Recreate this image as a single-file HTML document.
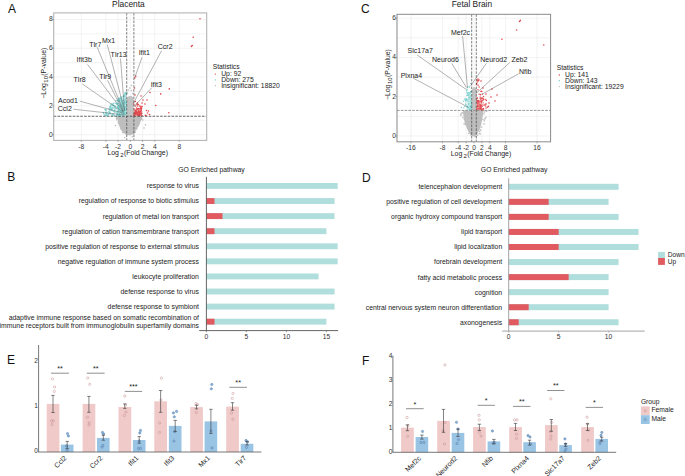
<!DOCTYPE html>
<html><head><meta charset="utf-8"><style>
html,body{margin:0;padding:0;background:#fff;width:685px;height:476px;overflow:hidden}
svg{display:block}
text{font-family:"Liberation Sans", sans-serif}
</style></head><body>
<svg width="685" height="476" viewBox="0 0 685 476">
<rect width="685" height="476" fill="#fff"/>
<text x="7.9" y="12.9" font-size="12.0" text-anchor="start" fill="#111">A</text>
<text x="7.3" y="180.6" font-size="12.0" text-anchor="start" fill="#111">B</text>
<text x="360.9" y="12.9" font-size="12.0" text-anchor="start" fill="#111">C</text>
<text x="361.9" y="182.3" font-size="12.0" text-anchor="start" fill="#111">D</text>
<text x="7.1" y="363.5" font-size="12.0" text-anchor="start" fill="#111">E</text>
<text x="362" y="365" font-size="12.0" text-anchor="start" fill="#111">F</text>
<g>
<line x1="53.7" y1="134.7" x2="206.7" y2="134.7" stroke="#ebebeb" stroke-width="0.6"/>
<line x1="53.7" y1="105.9" x2="206.7" y2="105.9" stroke="#ebebeb" stroke-width="0.6"/>
<line x1="53.7" y1="77.1" x2="206.7" y2="77.1" stroke="#ebebeb" stroke-width="0.6"/>
<line x1="53.7" y1="48.3" x2="206.7" y2="48.3" stroke="#ebebeb" stroke-width="0.6"/>
<line x1="53.7" y1="19.5" x2="206.7" y2="19.5" stroke="#ebebeb" stroke-width="0.6"/>
<line x1="53.7" y1="120.3" x2="206.7" y2="120.3" stroke="#ebebeb" stroke-width="0.6"/>
<line x1="53.7" y1="91.5" x2="206.7" y2="91.5" stroke="#ebebeb" stroke-width="0.6"/>
<line x1="53.7" y1="62.7" x2="206.7" y2="62.7" stroke="#ebebeb" stroke-width="0.6"/>
<line x1="53.7" y1="33.9" x2="206.7" y2="33.9" stroke="#ebebeb" stroke-width="0.6"/>
<line x1="81.34" y1="12.9" x2="81.34" y2="140.4" stroke="#ebebeb" stroke-width="0.6"/>
<line x1="105.82" y1="12.9" x2="105.82" y2="140.4" stroke="#ebebeb" stroke-width="0.6"/>
<line x1="118.06" y1="12.9" x2="118.06" y2="140.4" stroke="#ebebeb" stroke-width="0.6"/>
<line x1="130.3" y1="12.9" x2="130.3" y2="140.4" stroke="#ebebeb" stroke-width="0.6"/>
<line x1="142.54" y1="12.9" x2="142.54" y2="140.4" stroke="#ebebeb" stroke-width="0.6"/>
<line x1="154.78" y1="12.9" x2="154.78" y2="140.4" stroke="#ebebeb" stroke-width="0.6"/>
<line x1="179.26" y1="12.9" x2="179.26" y2="140.4" stroke="#ebebeb" stroke-width="0.6"/>
</g>
<path d="M117.3,116.3 L117.8,120 L119,125 L120.5,129.6 L123,132.5 L125.5,134.4 L127.3,135.3 L130.8,135.3 L132.5,134.2 L134.2,132.3 L136.6,129.6 L139.2,125 L141.3,120 L142.3,116.3Z" fill="#bebebe"/>
<path d="M126.5,116.3 L126.5,100 L127.3,97.5 L129,96 L131,95.8 L132.8,97 L133.5,99 L133.5,116.3Z" fill="#c2c2c2"/>
<path d="M116,116.3 L126.5,116.3 L126.5,100 L125,97 L123,98.5 L120.5,101.5 L118,105.5 L116.5,110Z" fill="#c3eae8"/>
<path d="M133.5,116.3 L140,116.3 L140.3,113 L138,110.5 L135.5,109 L133.5,108Z" fill="#ee9a9c"/>
<g fill="#bebebe">
<circle cx="139.92" cy="120.57" r="0.8"/>
<circle cx="121.18" cy="125.51" r="0.8"/>
<circle cx="135.03" cy="132.19" r="0.8"/>
<circle cx="123.6" cy="132.4" r="0.8"/>
<circle cx="141.18" cy="118.58" r="0.8"/>
<circle cx="119.15" cy="123.67" r="0.8"/>
<circle cx="118.46" cy="123.29" r="0.8"/>
<circle cx="135.8" cy="129.72" r="0.8"/>
<circle cx="123.78" cy="131.75" r="0.8"/>
<circle cx="132.29" cy="136.76" r="0.8"/>
<circle cx="119.74" cy="121.07" r="0.8"/>
<circle cx="116.72" cy="118.5" r="0.8"/>
<circle cx="116.7" cy="117.33" r="0.8"/>
<circle cx="139.27" cy="119.79" r="0.8"/>
<circle cx="121.58" cy="127.56" r="0.8"/>
<circle cx="137.97" cy="125.51" r="0.8"/>
<circle cx="139.01" cy="119.79" r="0.8"/>
<circle cx="137.91" cy="125.74" r="0.8"/>
<circle cx="120.88" cy="124.37" r="0.8"/>
<circle cx="121.57" cy="127.36" r="0.8"/>
<circle cx="122.19" cy="127.11" r="0.8"/>
<circle cx="116.91" cy="118.05" r="0.8"/>
<circle cx="120.52" cy="125.96" r="0.8"/>
<circle cx="139.23" cy="119.23" r="0.8"/>
<circle cx="132.71" cy="133.58" r="0.8"/>
<circle cx="138.79" cy="124.06" r="0.8"/>
<circle cx="136.4" cy="128.63" r="0.8"/>
<circle cx="119.25" cy="122.62" r="0.8"/>
<circle cx="121.29" cy="126.22" r="0.8"/>
<circle cx="134.35" cy="132.77" r="0.8"/>
<circle cx="139.01" cy="123.24" r="0.8"/>
<circle cx="121.25" cy="125.35" r="0.8"/>
<circle cx="116.89" cy="118.61" r="0.8"/>
<circle cx="118.25" cy="121.87" r="0.8"/>
<circle cx="118.61" cy="119.21" r="0.8"/>
<circle cx="141.41" cy="119.12" r="0.8"/>
<circle cx="135.88" cy="129.01" r="0.8"/>
<circle cx="139.8" cy="120.31" r="0.8"/>
<circle cx="134.03" cy="130.48" r="0.8"/>
<circle cx="136.42" cy="128.33" r="0.8"/>
<circle cx="136.98" cy="124.97" r="0.8"/>
<circle cx="116.76" cy="119.65" r="0.8"/>
<circle cx="119.65" cy="121.52" r="0.8"/>
<circle cx="141.34" cy="118.15" r="0.8"/>
<circle cx="123.26" cy="129.65" r="0.8"/>
<circle cx="122.55" cy="132.55" r="0.8"/>
<circle cx="134.88" cy="132.16" r="0.8"/>
<circle cx="137.14" cy="124.22" r="0.8"/>
<circle cx="138.31" cy="121.77" r="0.8"/>
<circle cx="119.9" cy="121.6" r="0.8"/>
<circle cx="121.83" cy="128.38" r="0.8"/>
<circle cx="133.21" cy="133.56" r="0.8"/>
<circle cx="141.41" cy="118.54" r="0.8"/>
<circle cx="136.72" cy="128.08" r="0.8"/>
<circle cx="124.73" cy="137.6" r="0.8"/>
<circle cx="131.5" cy="85.5" r="0.8"/>
<circle cx="130" cy="88" r="0.8"/>
<circle cx="128.5" cy="90" r="0.8"/>
<circle cx="131.5" cy="90.5" r="0.8"/>
<circle cx="127.5" cy="93" r="0.8"/>
<circle cx="132.5" cy="93.5" r="0.8"/>
<circle cx="142.8" cy="120" r="0.8"/>
<circle cx="145.5" cy="124.9" r="0.8"/>
<circle cx="115.5" cy="125.5" r="0.8"/>
<circle cx="144" cy="128" r="0.8"/>
</g>
<g fill="#7fd0cf">
<circle cx="113.66" cy="105.18" r="0.75"/>
<circle cx="110.75" cy="108.17" r="0.75"/>
<circle cx="120.67" cy="97.01" r="0.75"/>
<circle cx="123.76" cy="113.38" r="0.75"/>
<circle cx="110.27" cy="107.55" r="0.75"/>
<circle cx="113.25" cy="103.28" r="0.75"/>
<circle cx="119.67" cy="99.21" r="0.75"/>
<circle cx="106.08" cy="115.13" r="0.75"/>
<circle cx="124.49" cy="103.57" r="0.75"/>
<circle cx="120.25" cy="105.72" r="0.75"/>
<circle cx="122.02" cy="97.15" r="0.75"/>
<circle cx="121.33" cy="112.54" r="0.75"/>
<circle cx="126.21" cy="92.51" r="0.75"/>
<circle cx="113.6" cy="114.17" r="0.75"/>
<circle cx="125.13" cy="95.93" r="0.75"/>
<circle cx="125" cy="96.99" r="0.75"/>
<circle cx="111.77" cy="108.21" r="0.75"/>
<circle cx="120.64" cy="102.06" r="0.75"/>
<circle cx="118.72" cy="109.67" r="0.75"/>
<circle cx="119.31" cy="108.21" r="0.75"/>
<circle cx="126.2" cy="93.17" r="0.75"/>
<circle cx="117.16" cy="115.7" r="0.75"/>
<circle cx="115.2" cy="103.24" r="0.75"/>
<circle cx="103.72" cy="113.66" r="0.75"/>
<circle cx="108.73" cy="114.74" r="0.75"/>
<circle cx="124.01" cy="104.35" r="0.75"/>
<circle cx="106.64" cy="112.89" r="0.75"/>
<circle cx="105.03" cy="109.47" r="0.75"/>
<circle cx="118.83" cy="101.51" r="0.75"/>
<circle cx="125.28" cy="110.15" r="0.75"/>
<circle cx="117.99" cy="100.6" r="0.75"/>
<circle cx="103.35" cy="112.5" r="0.75"/>
<circle cx="119.22" cy="109.99" r="0.75"/>
<circle cx="121.41" cy="98.48" r="0.75"/>
<circle cx="122.92" cy="115.29" r="0.75"/>
<circle cx="108.71" cy="111.71" r="0.75"/>
<circle cx="119.67" cy="100.08" r="0.75"/>
<circle cx="123.33" cy="112.69" r="0.75"/>
<circle cx="124.98" cy="100.13" r="0.75"/>
<circle cx="126.18" cy="102.53" r="0.75"/>
<circle cx="125.26" cy="114.36" r="0.75"/>
<circle cx="112.54" cy="110.69" r="0.75"/>
<circle cx="117.6" cy="107.35" r="0.75"/>
<circle cx="114.02" cy="115.2" r="0.75"/>
<circle cx="113.03" cy="105.13" r="0.75"/>
<circle cx="107.05" cy="113.01" r="0.75"/>
<circle cx="125.47" cy="99.78" r="0.75"/>
<circle cx="113.89" cy="111.51" r="0.75"/>
<circle cx="109.78" cy="109.7" r="0.75"/>
<circle cx="109.72" cy="107.04" r="0.75"/>
<circle cx="121.89" cy="101.34" r="0.75"/>
<circle cx="118.66" cy="114.79" r="0.75"/>
<circle cx="125.95" cy="112.46" r="0.75"/>
<circle cx="123.34" cy="112.09" r="0.75"/>
<circle cx="117.55" cy="100.68" r="0.75"/>
<circle cx="106" cy="109.64" r="0.75"/>
<circle cx="123.93" cy="96.61" r="0.75"/>
<circle cx="114.82" cy="112.07" r="0.75"/>
<circle cx="106.2" cy="115.7" r="0.75"/>
<circle cx="105.54" cy="109.95" r="0.75"/>
<circle cx="121.82" cy="101.99" r="0.75"/>
<circle cx="123.21" cy="96.48" r="0.75"/>
<circle cx="116.19" cy="108.53" r="0.75"/>
<circle cx="126.21" cy="107.04" r="0.75"/>
<circle cx="117.97" cy="107" r="0.75"/>
<circle cx="115.08" cy="111.94" r="0.75"/>
<circle cx="109.66" cy="113.42" r="0.75"/>
<circle cx="110.4" cy="106.25" r="0.75"/>
<circle cx="112.58" cy="113.93" r="0.75"/>
<circle cx="126.27" cy="103.36" r="0.75"/>
<circle cx="122.24" cy="113.97" r="0.75"/>
<circle cx="123.35" cy="104.88" r="0.75"/>
<circle cx="109.88" cy="108.9" r="0.75"/>
<circle cx="109.77" cy="112.63" r="0.75"/>
<circle cx="120.55" cy="98.37" r="0.75"/>
<circle cx="120.4" cy="111.42" r="0.75"/>
<circle cx="126.02" cy="98.71" r="0.75"/>
<circle cx="123.44" cy="102.63" r="0.75"/>
<circle cx="123.79" cy="109.19" r="0.75"/>
<circle cx="116.84" cy="104.09" r="0.75"/>
<circle cx="122.14" cy="101.6" r="0.75"/>
<circle cx="114.98" cy="108.33" r="0.75"/>
<circle cx="123.6" cy="103.14" r="0.75"/>
<circle cx="116.74" cy="114.44" r="0.75"/>
<circle cx="117.36" cy="112.36" r="0.75"/>
<circle cx="119.52" cy="99.07" r="0.75"/>
<circle cx="122.06" cy="99.53" r="0.75"/>
<circle cx="125.55" cy="93.04" r="0.75"/>
<circle cx="105.98" cy="110.57" r="0.75"/>
<circle cx="109.96" cy="111.12" r="0.75"/>
<circle cx="117.26" cy="100.29" r="0.75"/>
<circle cx="104.54" cy="114.88" r="0.75"/>
<circle cx="105.99" cy="112.34" r="0.75"/>
<circle cx="112.54" cy="104.49" r="0.75"/>
<circle cx="124.42" cy="109.63" r="0.75"/>
<circle cx="114.51" cy="115.66" r="0.75"/>
<circle cx="124.4" cy="96.76" r="0.75"/>
<circle cx="110.49" cy="113.67" r="0.75"/>
<circle cx="109.86" cy="112.81" r="0.75"/>
<circle cx="123.91" cy="113.96" r="0.75"/>
<circle cx="112.07" cy="114.8" r="0.75"/>
<circle cx="119.44" cy="113.35" r="0.75"/>
<circle cx="125.64" cy="106.91" r="0.75"/>
<circle cx="123.19" cy="110.93" r="0.75"/>
<circle cx="111.99" cy="115.86" r="0.75"/>
<circle cx="116.1" cy="100.7" r="0.75"/>
<circle cx="125.18" cy="93.09" r="0.75"/>
<circle cx="126.39" cy="113.18" r="0.75"/>
<circle cx="105.96" cy="113.3" r="0.75"/>
<circle cx="123.83" cy="103.14" r="0.75"/>
<circle cx="118.72" cy="107.46" r="0.75"/>
<circle cx="114.8" cy="107.56" r="0.75"/>
<circle cx="118.38" cy="103.73" r="0.75"/>
<circle cx="119.82" cy="114" r="0.75"/>
<circle cx="117.38" cy="115.67" r="0.75"/>
<circle cx="119.73" cy="98.94" r="0.75"/>
<circle cx="122.58" cy="111.13" r="0.75"/>
<circle cx="124.11" cy="95.49" r="0.75"/>
<circle cx="118.22" cy="114.71" r="0.75"/>
<circle cx="106.24" cy="114.89" r="0.75"/>
<circle cx="118.58" cy="109.47" r="0.75"/>
<circle cx="117.86" cy="111.85" r="0.75"/>
<circle cx="110.63" cy="106.66" r="0.75"/>
<circle cx="121.93" cy="105.3" r="0.75"/>
<circle cx="110.52" cy="105.06" r="0.75"/>
<circle cx="116.48" cy="103.75" r="0.75"/>
<circle cx="119.99" cy="98.85" r="0.75"/>
<circle cx="117.57" cy="113.5" r="0.75"/>
<circle cx="115.41" cy="106.22" r="0.75"/>
<circle cx="117.93" cy="105.7" r="0.75"/>
<circle cx="111.99" cy="105.67" r="0.75"/>
<circle cx="123.91" cy="95.35" r="0.75"/>
<circle cx="105.97" cy="112.53" r="0.75"/>
<circle cx="119.69" cy="115.56" r="0.75"/>
<circle cx="111.49" cy="109.3" r="0.75"/>
<circle cx="122.23" cy="107.89" r="0.75"/>
<circle cx="122.18" cy="115.76" r="0.75"/>
<circle cx="117.31" cy="111.89" r="0.75"/>
<circle cx="126.03" cy="107.7" r="0.75"/>
<circle cx="111.67" cy="103.95" r="0.75"/>
<circle cx="124.68" cy="93.66" r="0.75"/>
<circle cx="119.3" cy="98.19" r="0.75"/>
<circle cx="118.44" cy="105.54" r="0.75"/>
<circle cx="112.43" cy="107.84" r="0.75"/>
<circle cx="121.73" cy="110.15" r="0.75"/>
<circle cx="125.12" cy="110.87" r="0.75"/>
<circle cx="122.26" cy="107.3" r="0.75"/>
<circle cx="120.48" cy="106.32" r="0.75"/>
<circle cx="118.74" cy="100.55" r="0.75"/>
<circle cx="122.93" cy="105.81" r="0.75"/>
<circle cx="118.92" cy="115.49" r="0.75"/>
<circle cx="120.73" cy="111.69" r="0.75"/>
<circle cx="114.91" cy="109.52" r="0.75"/>
<circle cx="126.13" cy="94.73" r="0.75"/>
<circle cx="108.36" cy="114.07" r="0.75"/>
<circle cx="106.24" cy="114.91" r="0.75"/>
<circle cx="122.97" cy="104.71" r="0.75"/>
<circle cx="124.61" cy="101.16" r="0.75"/>
<circle cx="126.18" cy="107.07" r="0.75"/>
<circle cx="125.08" cy="94.81" r="0.75"/>
<circle cx="118.26" cy="98.76" r="0.75"/>
<circle cx="109.01" cy="108.98" r="0.75"/>
<circle cx="113.7" cy="105.63" r="0.75"/>
<circle cx="126.17" cy="109.53" r="0.75"/>
<circle cx="125.46" cy="107.84" r="0.75"/>
<circle cx="122.96" cy="106.36" r="0.75"/>
<circle cx="112.86" cy="108.68" r="0.75"/>
<circle cx="114.21" cy="105.64" r="0.75"/>
<circle cx="118.11" cy="107.2" r="0.75"/>
<circle cx="120.68" cy="115.79" r="0.75"/>
<circle cx="109.96" cy="109.7" r="0.75"/>
<circle cx="124.63" cy="103.04" r="0.75"/>
<circle cx="117.82" cy="111.65" r="0.75"/>
<circle cx="122.92" cy="103.99" r="0.75"/>
<circle cx="111.56" cy="109.46" r="0.75"/>
<circle cx="112.39" cy="104.4" r="0.75"/>
<circle cx="119.09" cy="98.45" r="0.75"/>
<circle cx="107.4" cy="114.91" r="0.75"/>
<circle cx="113.92" cy="106.95" r="0.75"/>
<circle cx="111.48" cy="110.14" r="0.75"/>
<circle cx="121.9" cy="101.09" r="0.75"/>
<circle cx="123.09" cy="110.37" r="0.75"/>
<circle cx="118.37" cy="111.46" r="0.75"/>
<circle cx="121.68" cy="111.6" r="0.75"/>
<circle cx="114.45" cy="110.95" r="0.75"/>
<circle cx="120.95" cy="110.61" r="0.75"/>
<circle cx="125.38" cy="114.13" r="0.75"/>
<circle cx="125.63" cy="107.35" r="0.75"/>
<circle cx="110.56" cy="107.17" r="0.75"/>
<circle cx="123.98" cy="111.36" r="0.75"/>
<circle cx="122.91" cy="108.94" r="0.75"/>
<circle cx="119.09" cy="114" r="0.75"/>
<circle cx="124.15" cy="108.21" r="0.75"/>
<circle cx="118.51" cy="103.45" r="0.75"/>
<circle cx="120.57" cy="105.3" r="0.75"/>
<circle cx="117.57" cy="106.5" r="0.75"/>
<circle cx="121.22" cy="104.59" r="0.75"/>
<circle cx="120.61" cy="105.32" r="0.75"/>
<circle cx="120.54" cy="109.9" r="0.75"/>
<circle cx="121.67" cy="103.16" r="0.75"/>
<circle cx="124.48" cy="108.21" r="0.75"/>
<circle cx="121.31" cy="111.41" r="0.75"/>
<circle cx="124.07" cy="113.58" r="0.75"/>
<circle cx="124.63" cy="110.7" r="0.75"/>
<circle cx="123.78" cy="102.51" r="0.75"/>
<circle cx="123.57" cy="104.07" r="0.75"/>
<circle cx="119.42" cy="101.92" r="0.75"/>
<circle cx="120.73" cy="100.32" r="0.75"/>
<circle cx="123.18" cy="111.97" r="0.75"/>
<circle cx="124.29" cy="102.06" r="0.75"/>
<circle cx="123.03" cy="113.41" r="0.75"/>
<circle cx="117.34" cy="103.09" r="0.75"/>
<circle cx="119.52" cy="107.39" r="0.75"/>
<circle cx="118.62" cy="108.62" r="0.75"/>
<circle cx="120.23" cy="110.48" r="0.75"/>
<circle cx="121.99" cy="110.98" r="0.75"/>
<circle cx="119.32" cy="111.31" r="0.75"/>
<circle cx="123.91" cy="111.55" r="0.75"/>
<circle cx="117.64" cy="115.14" r="0.75"/>
<circle cx="122.42" cy="104.36" r="0.75"/>
<circle cx="121.08" cy="108.28" r="0.75"/>
<circle cx="121.87" cy="103.97" r="0.75"/>
<circle cx="119.49" cy="105.82" r="0.75"/>
<circle cx="124.34" cy="107" r="0.75"/>
<circle cx="117.36" cy="107.24" r="0.75"/>
<circle cx="118.89" cy="100.2" r="0.75"/>
<circle cx="126.18" cy="104.7" r="0.75"/>
<circle cx="122.05" cy="105.73" r="0.75"/>
<circle cx="117.5" cy="114.41" r="0.75"/>
<circle cx="125.8" cy="102.98" r="0.75"/>
<circle cx="120.93" cy="105.98" r="0.75"/>
<circle cx="118.57" cy="110.59" r="0.75"/>
<circle cx="124.35" cy="112.16" r="0.75"/>
<circle cx="123.35" cy="100.28" r="0.75"/>
<circle cx="119.16" cy="108.23" r="0.75"/>
<circle cx="123.61" cy="106.18" r="0.75"/>
<circle cx="121.22" cy="113.45" r="0.75"/>
<circle cx="117.22" cy="104.3" r="0.75"/>
<circle cx="119.73" cy="115.88" r="0.75"/>
<circle cx="119.14" cy="100.75" r="0.75"/>
</g>
<g fill="#e0474c">
<circle cx="140.85" cy="107.59" r="0.75"/>
<circle cx="136.27" cy="112.15" r="0.75"/>
<circle cx="137.02" cy="108.9" r="0.75"/>
<circle cx="136.42" cy="113.16" r="0.75"/>
<circle cx="137.1" cy="109.55" r="0.75"/>
<circle cx="135.22" cy="106.07" r="0.75"/>
<circle cx="137.17" cy="104.63" r="0.75"/>
<circle cx="145.33" cy="115.33" r="0.75"/>
<circle cx="137.76" cy="114.84" r="0.75"/>
<circle cx="138.45" cy="114.49" r="0.75"/>
<circle cx="140.72" cy="106.31" r="0.75"/>
<circle cx="135.18" cy="113.38" r="0.75"/>
<circle cx="135.39" cy="101.46" r="0.75"/>
<circle cx="133.84" cy="103.98" r="0.75"/>
<circle cx="134.92" cy="113.6" r="0.75"/>
<circle cx="139.28" cy="112.33" r="0.75"/>
<circle cx="139.72" cy="113.61" r="0.75"/>
<circle cx="135.1" cy="112.83" r="0.75"/>
<circle cx="139.56" cy="115.75" r="0.75"/>
<circle cx="137.4" cy="102.99" r="0.75"/>
<circle cx="138.73" cy="111.71" r="0.75"/>
<circle cx="135.27" cy="114.28" r="0.75"/>
<circle cx="139.86" cy="108.64" r="0.75"/>
<circle cx="139.68" cy="115.16" r="0.75"/>
<circle cx="139.54" cy="105.89" r="0.75"/>
<circle cx="145.97" cy="115.45" r="0.75"/>
<circle cx="138.44" cy="104.52" r="0.75"/>
<circle cx="141.24" cy="109.27" r="0.75"/>
<circle cx="138.68" cy="111.98" r="0.75"/>
<circle cx="141.75" cy="113.52" r="0.75"/>
<circle cx="136.83" cy="114" r="0.75"/>
<circle cx="138.97" cy="110.65" r="0.75"/>
<circle cx="138.07" cy="112.85" r="0.75"/>
<circle cx="138.11" cy="108.89" r="0.75"/>
<circle cx="141.93" cy="115.73" r="0.75"/>
<circle cx="133.91" cy="115.55" r="0.75"/>
<circle cx="138.06" cy="109.01" r="0.75"/>
<circle cx="140.49" cy="111.46" r="0.75"/>
<circle cx="139.59" cy="114.62" r="0.75"/>
<circle cx="138.12" cy="108.4" r="0.75"/>
<circle cx="140.51" cy="113.55" r="0.75"/>
<circle cx="141.25" cy="110.16" r="0.75"/>
<circle cx="140.2" cy="114.98" r="0.75"/>
<circle cx="136.58" cy="111.28" r="0.75"/>
<circle cx="136.41" cy="108.05" r="0.75"/>
<circle cx="135.55" cy="110.65" r="0.75"/>
<circle cx="134.51" cy="114.12" r="0.75"/>
<circle cx="137.19" cy="112.55" r="0.75"/>
<circle cx="135.99" cy="110.88" r="0.75"/>
<circle cx="139.93" cy="111.76" r="0.75"/>
<circle cx="138.61" cy="111.38" r="0.75"/>
<circle cx="138.28" cy="115.18" r="0.75"/>
<circle cx="135.85" cy="112.15" r="0.75"/>
<circle cx="139.37" cy="108.69" r="0.75"/>
<circle cx="141.68" cy="111.99" r="0.75"/>
<circle cx="135.66" cy="114.08" r="0.75"/>
<circle cx="140.45" cy="113.04" r="0.75"/>
<circle cx="141.3" cy="108.71" r="0.75"/>
<circle cx="138.03" cy="113.94" r="0.75"/>
<circle cx="141.3" cy="113.13" r="0.75"/>
<circle cx="138.66" cy="111.11" r="0.75"/>
<circle cx="138.4" cy="112.44" r="0.75"/>
<circle cx="141.2" cy="114.62" r="0.75"/>
<circle cx="139.79" cy="115.39" r="0.75"/>
<circle cx="134.16" cy="114.16" r="0.75"/>
<circle cx="137.49" cy="114.01" r="0.75"/>
<circle cx="136.09" cy="111.74" r="0.75"/>
<circle cx="140.53" cy="108.28" r="0.75"/>
<circle cx="136.05" cy="111.91" r="0.75"/>
<circle cx="140.75" cy="110.16" r="0.75"/>
<circle cx="134.5" cy="88" r="0.8"/>
<circle cx="135" cy="95" r="0.8"/>
<circle cx="141" cy="96" r="0.8"/>
<circle cx="143" cy="100" r="0.8"/>
<circle cx="142" cy="103" r="0.8"/>
<circle cx="137" cy="104" r="0.8"/>
<circle cx="137.5" cy="106" r="0.8"/>
<circle cx="142" cy="106.5" r="0.8"/>
<circle cx="141.5" cy="108" r="0.8"/>
<circle cx="146.5" cy="110.5" r="0.8"/>
<circle cx="147.5" cy="113" r="0.8"/>
<circle cx="149.5" cy="114.5" r="0.8"/>
<circle cx="200" cy="18.7" r="0.8"/>
<circle cx="193.2" cy="37.3" r="0.8"/>
<circle cx="192.2" cy="45.5" r="0.8"/>
<circle cx="191.5" cy="46.4" r="0.8"/>
<circle cx="135.8" cy="76.2" r="0.8"/>
<circle cx="134.8" cy="77.9" r="0.8"/>
<circle cx="169.3" cy="88.9" r="0.8"/>
<circle cx="160.7" cy="93.9" r="0.8"/>
<circle cx="150" cy="92.5" r="0.8"/>
<circle cx="155.7" cy="105.5" r="0.8"/>
<circle cx="168.8" cy="112.7" r="0.8"/>
<circle cx="147" cy="100" r="0.8"/>
<circle cx="145" cy="104" r="0.8"/>
<circle cx="148.5" cy="111" r="0.8"/>
</g>
<line x1="126.72" y1="12.9" x2="126.72" y2="140.4" stroke="#3a3a3a" stroke-width="0.65" stroke-dasharray="2.6,1.2"/>
<line x1="133.88" y1="12.9" x2="133.88" y2="140.4" stroke="#3a3a3a" stroke-width="0.65" stroke-dasharray="2.6,1.2"/>
<line x1="53.7" y1="116.25" x2="206.7" y2="116.25" stroke="#333" stroke-width="0.75" stroke-dasharray="2.6,1.2"/>
<line x1="107.3" y1="44.6" x2="124.5" y2="110.5" stroke="#555" stroke-width="0.45"/>
<text x="108.5" y="42.6" font-size="7.0" text-anchor="middle" fill="#222">Mx1</text>
<line x1="97.2" y1="47.2" x2="123.5" y2="111" stroke="#555" stroke-width="0.45"/>
<text x="95.3" y="47" font-size="7.0" text-anchor="middle" fill="#222">Tlr7</text>
<line x1="120.5" y1="58.5" x2="124.5" y2="110.5" stroke="#555" stroke-width="0.45"/>
<text x="118.6" y="57.1" font-size="7.0" text-anchor="middle" fill="#222">Tlr13</text>
<line x1="87.5" y1="64.4" x2="123.5" y2="112" stroke="#555" stroke-width="0.45"/>
<text x="84.2" y="62.1" font-size="7.0" text-anchor="middle" fill="#222">Ifit3b</text>
<line x1="107.5" y1="80.2" x2="123.2" y2="111.5" stroke="#555" stroke-width="0.45"/>
<text x="105.2" y="79.2" font-size="7.0" text-anchor="middle" fill="#222">Tlr9</text>
<line x1="82.3" y1="83.9" x2="123.5" y2="112.5" stroke="#555" stroke-width="0.45"/>
<text x="79.6" y="82.4" font-size="7.0" text-anchor="middle" fill="#222">Tlr8</text>
<line x1="79.6" y1="101.1" x2="124.5" y2="113.5" stroke="#555" stroke-width="0.45"/>
<text x="68" y="102.8" font-size="7.0" text-anchor="middle" fill="#222">Acod1</text>
<line x1="73.4" y1="109.2" x2="125.5" y2="115" stroke="#555" stroke-width="0.45"/>
<text x="64.8" y="110.9" font-size="7.0" text-anchor="middle" fill="#222">Ccl2</text>
<line x1="142" y1="57.3" x2="135" y2="77" stroke="#555" stroke-width="0.45"/>
<text x="144.3" y="54.7" font-size="7.0" text-anchor="middle" fill="#222">Ifit1</text>
<line x1="161.6" y1="50.7" x2="133.3" y2="103.5" stroke="#555" stroke-width="0.45"/>
<text x="165.2" y="49" font-size="7.0" text-anchor="middle" fill="#222">Ccr2</text>
<line x1="151.8" y1="87.7" x2="134.5" y2="106" stroke="#555" stroke-width="0.45"/>
<text x="156.3" y="86.5" font-size="7.0" text-anchor="middle" fill="#222">Ifit3</text>
<rect x="53.7" y="12.9" width="153" height="127.5" fill="none" stroke="#b4b4b4" stroke-width="1.1"/>
<line x1="52.2" y1="134.7" x2="53.7" y2="134.7" stroke="#666" stroke-width="0.5"/>
<text x="52.7" y="136.6" font-size="6.7" text-anchor="end" fill="#333">0</text>
<line x1="52.2" y1="105.9" x2="53.7" y2="105.9" stroke="#666" stroke-width="0.5"/>
<text x="52.7" y="107.8" font-size="6.7" text-anchor="end" fill="#333">2</text>
<line x1="52.2" y1="77.1" x2="53.7" y2="77.1" stroke="#666" stroke-width="0.5"/>
<text x="52.7" y="79" font-size="6.7" text-anchor="end" fill="#333">4</text>
<line x1="52.2" y1="48.3" x2="53.7" y2="48.3" stroke="#666" stroke-width="0.5"/>
<text x="52.7" y="50.2" font-size="6.7" text-anchor="end" fill="#333">6</text>
<line x1="52.2" y1="19.5" x2="53.7" y2="19.5" stroke="#666" stroke-width="0.5"/>
<text x="52.7" y="21.4" font-size="6.7" text-anchor="end" fill="#333">8</text>
<line x1="81.34" y1="140.4" x2="81.34" y2="141.9" stroke="#666" stroke-width="0.5"/>
<text x="81.34" y="148.8" font-size="6.7" text-anchor="middle" fill="#333">-8</text>
<line x1="105.82" y1="140.4" x2="105.82" y2="141.9" stroke="#666" stroke-width="0.5"/>
<text x="105.82" y="148.8" font-size="6.7" text-anchor="middle" fill="#333">-4</text>
<line x1="118.06" y1="140.4" x2="118.06" y2="141.9" stroke="#666" stroke-width="0.5"/>
<text x="118.06" y="148.8" font-size="6.7" text-anchor="middle" fill="#333">-2</text>
<line x1="130.3" y1="140.4" x2="130.3" y2="141.9" stroke="#666" stroke-width="0.5"/>
<text x="130.3" y="148.8" font-size="6.7" text-anchor="middle" fill="#333">0</text>
<line x1="142.54" y1="140.4" x2="142.54" y2="141.9" stroke="#666" stroke-width="0.5"/>
<text x="142.54" y="148.8" font-size="6.7" text-anchor="middle" fill="#333">2</text>
<line x1="154.78" y1="140.4" x2="154.78" y2="141.9" stroke="#666" stroke-width="0.5"/>
<text x="154.78" y="148.8" font-size="6.7" text-anchor="middle" fill="#333">4</text>
<line x1="179.26" y1="140.4" x2="179.26" y2="141.9" stroke="#666" stroke-width="0.5"/>
<text x="179.26" y="148.8" font-size="6.7" text-anchor="middle" fill="#333">8</text>
<text x="128.4" y="6.6" font-size="8.4" text-anchor="middle" fill="#222">Placenta</text>
<text x="137.7" y="154.6" font-size="6.9" text-anchor="middle" fill="#222">Log<tspan font-size="6.0" dx="1.2" dy="2.3">2</tspan><tspan dx="0.4" dy="-2.3">(Fold Change)</tspan></text>
<text x="45.7" y="73.2" font-size="6.9" text-anchor="middle" fill="#222" transform="rotate(-90 45.7 73.2)">−Log<tspan font-size="6.0" dx="0.5" dy="2.3">10</tspan><tspan dx="0.3" dy="-2.3">(P-value)</tspan></text>
<text x="212.8" y="69" font-size="6.7" text-anchor="start" fill="#222">Statistics</text>
<circle cx="215.4" cy="74.1" r="0.7" fill="#e0474c"/>
<text x="221.2" y="76.3" font-size="6.8" text-anchor="start" fill="#222">Up: 92</text>
<circle cx="215.4" cy="79.9" r="0.7" fill="#7fd0cf"/>
<text x="221.2" y="82.1" font-size="6.8" text-anchor="start" fill="#222">Down: 275</text>
<circle cx="215.4" cy="85.7" r="0.7" fill="#bebebe"/>
<text x="221.2" y="87.9" font-size="6.8" text-anchor="start" fill="#222">Insignificant: 18820</text>
<g>
<line x1="397" y1="136" x2="550.6" y2="136" stroke="#ebebeb" stroke-width="0.6"/>
<line x1="397" y1="96.74" x2="550.6" y2="96.74" stroke="#ebebeb" stroke-width="0.6"/>
<line x1="397" y1="57.48" x2="550.6" y2="57.48" stroke="#ebebeb" stroke-width="0.6"/>
<line x1="397" y1="18.22" x2="550.6" y2="18.22" stroke="#ebebeb" stroke-width="0.6"/>
<line x1="397" y1="116.37" x2="550.6" y2="116.37" stroke="#ebebeb" stroke-width="0.6"/>
<line x1="397" y1="77.11" x2="550.6" y2="77.11" stroke="#ebebeb" stroke-width="0.6"/>
<line x1="397" y1="37.85" x2="550.6" y2="37.85" stroke="#ebebeb" stroke-width="0.6"/>
<line x1="410.96" y1="14.3" x2="410.96" y2="141.8" stroke="#ebebeb" stroke-width="0.6"/>
<line x1="442.48" y1="14.3" x2="442.48" y2="141.8" stroke="#ebebeb" stroke-width="0.6"/>
<line x1="458.24" y1="14.3" x2="458.24" y2="141.8" stroke="#ebebeb" stroke-width="0.6"/>
<line x1="466.12" y1="14.3" x2="466.12" y2="141.8" stroke="#ebebeb" stroke-width="0.6"/>
<line x1="474" y1="14.3" x2="474" y2="141.8" stroke="#ebebeb" stroke-width="0.6"/>
<line x1="481.88" y1="14.3" x2="481.88" y2="141.8" stroke="#ebebeb" stroke-width="0.6"/>
<line x1="489.76" y1="14.3" x2="489.76" y2="141.8" stroke="#ebebeb" stroke-width="0.6"/>
<line x1="505.52" y1="14.3" x2="505.52" y2="141.8" stroke="#ebebeb" stroke-width="0.6"/>
<line x1="537.04" y1="14.3" x2="537.04" y2="141.8" stroke="#ebebeb" stroke-width="0.6"/>
</g>
<path d="M463,110.4 L463.3,115 L464.2,120 L465.6,125 L467.6,130 L470.3,135 L473.5,136.6 L476.5,135.6 L478.8,131 L480.6,127 L482,120 L483,115 L483.6,110.4Z" fill="#bebebe"/>
<path d="M471.9,110.4 L471.9,90 L473,87.5 L474.5,87 L476.5,89 L476.5,110.4Z" fill="#c4c4c4"/>
<path d="M467,110.4 L471.9,110.4 L471.9,94 L470.5,92 L469,96 L467.5,102Z" fill="#c3eae8"/>
<path d="M476.5,110.4 L482,110.4 L482,107 L480,103 L478,100 L476.5,99Z" fill="#ee9a9c"/>
<g fill="#bebebe">
<circle cx="485.98" cy="117.21" r="0.8"/>
<circle cx="468.31" cy="125.31" r="0.8"/>
<circle cx="480.23" cy="133.86" r="0.8"/>
<circle cx="471.13" cy="131.13" r="0.8"/>
<circle cx="468.39" cy="126.14" r="0.8"/>
<circle cx="474.9" cy="114.62" r="0.8"/>
<circle cx="462.94" cy="117.61" r="0.8"/>
<circle cx="470.49" cy="122.47" r="0.8"/>
<circle cx="464" cy="123.79" r="0.8"/>
<circle cx="465.85" cy="115.04" r="0.8"/>
<circle cx="470.94" cy="112.48" r="0.8"/>
<circle cx="473.99" cy="129.04" r="0.8"/>
<circle cx="485.16" cy="118.25" r="0.8"/>
<circle cx="475.91" cy="136.47" r="0.8"/>
<circle cx="478.36" cy="124.08" r="0.8"/>
<circle cx="484.77" cy="118.98" r="0.8"/>
<circle cx="486.26" cy="111.29" r="0.8"/>
<circle cx="466.1" cy="115.44" r="0.8"/>
<circle cx="477.53" cy="129.22" r="0.8"/>
<circle cx="484.31" cy="120.84" r="0.8"/>
<circle cx="462.15" cy="112.5" r="0.8"/>
<circle cx="465.87" cy="123.71" r="0.8"/>
<circle cx="477.18" cy="124.46" r="0.8"/>
<circle cx="481.58" cy="127.21" r="0.8"/>
<circle cx="469.43" cy="113.23" r="0.8"/>
<circle cx="479.57" cy="131.69" r="0.8"/>
<circle cx="471" cy="135.07" r="0.8"/>
<circle cx="478.21" cy="125.14" r="0.8"/>
<circle cx="480.94" cy="114.93" r="0.8"/>
<circle cx="478.55" cy="120.14" r="0.8"/>
<circle cx="460.57" cy="114.29" r="0.8"/>
<circle cx="474.31" cy="117.68" r="0.8"/>
<circle cx="484.02" cy="114.01" r="0.8"/>
<circle cx="468.64" cy="124.16" r="0.8"/>
<circle cx="465.14" cy="116.27" r="0.8"/>
<circle cx="471.68" cy="131.49" r="0.8"/>
<circle cx="470.24" cy="116.93" r="0.8"/>
<circle cx="464.22" cy="119.27" r="0.8"/>
<circle cx="486.96" cy="110.89" r="0.8"/>
<circle cx="468.66" cy="133.37" r="0.8"/>
<circle cx="465.15" cy="121.99" r="0.8"/>
<circle cx="460.96" cy="115.5" r="0.8"/>
<circle cx="484.06" cy="123.91" r="0.8"/>
<circle cx="480.5" cy="130.03" r="0.8"/>
<circle cx="478.62" cy="115.98" r="0.8"/>
<circle cx="481.75" cy="113.84" r="0.8"/>
<circle cx="467.17" cy="122.54" r="0.8"/>
<circle cx="461.89" cy="113.58" r="0.8"/>
<circle cx="480.18" cy="130.24" r="0.8"/>
<circle cx="470.6" cy="121.01" r="0.8"/>
<circle cx="465.06" cy="124.47" r="0.8"/>
<circle cx="477.73" cy="135.26" r="0.8"/>
<circle cx="480.14" cy="118.37" r="0.8"/>
<circle cx="479.18" cy="133.78" r="0.8"/>
<circle cx="484.47" cy="112.01" r="0.8"/>
<circle cx="481.44" cy="119.59" r="0.8"/>
<circle cx="475.13" cy="136.37" r="0.8"/>
<circle cx="479.61" cy="123.95" r="0.8"/>
<circle cx="477.58" cy="124.7" r="0.8"/>
<circle cx="482.99" cy="119.45" r="0.8"/>
<circle cx="474.89" cy="123.11" r="0.8"/>
<circle cx="480.5" cy="116.46" r="0.8"/>
<circle cx="473.1" cy="113.49" r="0.8"/>
<circle cx="473.82" cy="133.41" r="0.8"/>
<circle cx="475.31" cy="127.35" r="0.8"/>
<circle cx="470.72" cy="114.73" r="0.8"/>
<circle cx="479.31" cy="123.51" r="0.8"/>
<circle cx="469.75" cy="117.57" r="0.8"/>
<circle cx="481.66" cy="119.13" r="0.8"/>
<circle cx="477.58" cy="117.61" r="0.8"/>
</g>
<g fill="#7fd0cf">
<circle cx="461.47" cy="107.53" r="0.65"/>
<circle cx="466.22" cy="100.2" r="0.65"/>
<circle cx="469.74" cy="97.24" r="0.65"/>
<circle cx="468.46" cy="92.84" r="0.65"/>
<circle cx="471.57" cy="102.65" r="0.65"/>
<circle cx="463.38" cy="101.21" r="0.65"/>
<circle cx="466.9" cy="90.6" r="0.65"/>
<circle cx="467.32" cy="106.76" r="0.65"/>
<circle cx="469.04" cy="98.95" r="0.65"/>
<circle cx="465.91" cy="104.19" r="0.65"/>
<circle cx="471.69" cy="104.57" r="0.65"/>
<circle cx="461.52" cy="107.35" r="0.65"/>
<circle cx="469.37" cy="87" r="0.65"/>
<circle cx="471.53" cy="91.59" r="0.65"/>
<circle cx="467.62" cy="87.5" r="0.65"/>
<circle cx="465.23" cy="99.11" r="0.65"/>
<circle cx="466.54" cy="90.83" r="0.65"/>
<circle cx="471.21" cy="105.18" r="0.65"/>
<circle cx="464.77" cy="106.28" r="0.65"/>
<circle cx="465.6" cy="98.94" r="0.65"/>
<circle cx="465.16" cy="100.53" r="0.65"/>
<circle cx="466.81" cy="99.35" r="0.65"/>
<circle cx="467.3" cy="95.43" r="0.65"/>
<circle cx="467.45" cy="93.45" r="0.65"/>
<circle cx="468.94" cy="86.55" r="0.65"/>
<circle cx="470.66" cy="83.38" r="0.65"/>
<circle cx="471.49" cy="74.39" r="0.65"/>
<circle cx="470.52" cy="91.44" r="0.65"/>
<circle cx="464.88" cy="98.98" r="0.65"/>
<circle cx="470.21" cy="96" r="0.65"/>
<circle cx="467.07" cy="92.41" r="0.65"/>
<circle cx="470.83" cy="107.51" r="0.65"/>
<circle cx="468.37" cy="92.36" r="0.65"/>
<circle cx="465.81" cy="101.87" r="0.65"/>
<circle cx="468.54" cy="95.59" r="0.65"/>
<circle cx="468.77" cy="97.23" r="0.65"/>
<circle cx="470.36" cy="106.35" r="0.65"/>
<circle cx="467.1" cy="89.18" r="0.65"/>
<circle cx="471.43" cy="102.3" r="0.65"/>
<circle cx="469.03" cy="106.13" r="0.65"/>
<circle cx="465.53" cy="100.64" r="0.65"/>
<circle cx="469.8" cy="109.77" r="0.65"/>
<circle cx="470.48" cy="110.19" r="0.65"/>
<circle cx="465.78" cy="104.19" r="0.65"/>
<circle cx="463.8" cy="107.87" r="0.65"/>
<circle cx="468.47" cy="94.08" r="0.65"/>
<circle cx="469.25" cy="109.44" r="0.65"/>
<circle cx="470.97" cy="108.25" r="0.65"/>
<circle cx="468.09" cy="95.32" r="0.65"/>
<circle cx="470.98" cy="106" r="0.65"/>
<circle cx="470.86" cy="97.94" r="0.65"/>
<circle cx="467.3" cy="94.88" r="0.65"/>
<circle cx="470.98" cy="108.66" r="0.65"/>
<circle cx="467.81" cy="107.75" r="0.65"/>
<circle cx="467.9" cy="99.09" r="0.65"/>
<circle cx="469.07" cy="94.49" r="0.65"/>
<circle cx="467.18" cy="95.41" r="0.65"/>
<circle cx="467.14" cy="100.47" r="0.65"/>
<circle cx="466.13" cy="105.84" r="0.65"/>
<circle cx="466.6" cy="99.01" r="0.65"/>
<circle cx="469.54" cy="92.8" r="0.65"/>
<circle cx="468.08" cy="101.43" r="0.65"/>
<circle cx="468.97" cy="108.12" r="0.65"/>
<circle cx="470.45" cy="92.45" r="0.65"/>
<circle cx="470.75" cy="101.16" r="0.65"/>
<circle cx="469.77" cy="93.25" r="0.65"/>
<circle cx="468.47" cy="104.21" r="0.65"/>
<circle cx="470.52" cy="106.36" r="0.65"/>
<circle cx="466.87" cy="106.9" r="0.65"/>
<circle cx="469.08" cy="103.57" r="0.65"/>
</g>
<g fill="#e0474c">
<circle cx="479.88" cy="101.8" r="0.7"/>
<circle cx="477.9" cy="106.3" r="0.7"/>
<circle cx="481.14" cy="91.24" r="0.7"/>
<circle cx="484.28" cy="105.11" r="0.7"/>
<circle cx="476.82" cy="109.02" r="0.7"/>
<circle cx="485.66" cy="99.33" r="0.7"/>
<circle cx="481" cy="100.8" r="0.7"/>
<circle cx="481.95" cy="100.64" r="0.7"/>
<circle cx="478.9" cy="100.69" r="0.7"/>
<circle cx="476.64" cy="83.52" r="0.7"/>
<circle cx="478.12" cy="85.21" r="0.7"/>
<circle cx="480.2" cy="105.55" r="0.7"/>
<circle cx="480.24" cy="97.3" r="0.7"/>
<circle cx="482.46" cy="94.08" r="0.7"/>
<circle cx="485.07" cy="104.22" r="0.7"/>
<circle cx="487.85" cy="106.95" r="0.7"/>
<circle cx="482.15" cy="98.9" r="0.7"/>
<circle cx="485.92" cy="108.14" r="0.7"/>
<circle cx="477.96" cy="89.79" r="0.7"/>
<circle cx="477.83" cy="106.82" r="0.7"/>
<circle cx="477.5" cy="82.09" r="0.7"/>
<circle cx="481.62" cy="110.23" r="0.7"/>
<circle cx="483.35" cy="108.52" r="0.7"/>
<circle cx="476.65" cy="84.24" r="0.7"/>
<circle cx="482.05" cy="109.04" r="0.7"/>
<circle cx="477.16" cy="101.44" r="0.7"/>
<circle cx="486.32" cy="100.54" r="0.7"/>
<circle cx="487.14" cy="107.29" r="0.7"/>
<circle cx="477.38" cy="106.36" r="0.7"/>
<circle cx="476.94" cy="109.16" r="0.7"/>
<circle cx="480.49" cy="94.49" r="0.7"/>
<circle cx="488.5" cy="106.25" r="0.7"/>
<circle cx="483.58" cy="96.5" r="0.7"/>
<circle cx="479.13" cy="94.28" r="0.7"/>
<circle cx="478.04" cy="80.71" r="0.7"/>
<circle cx="479.09" cy="87.04" r="0.7"/>
<circle cx="482.92" cy="100.48" r="0.7"/>
<circle cx="478.15" cy="80.7" r="0.7"/>
<circle cx="480.92" cy="101.69" r="0.7"/>
<circle cx="480.53" cy="94.67" r="0.7"/>
<circle cx="481.91" cy="91.36" r="0.7"/>
<circle cx="485.57" cy="105.95" r="0.7"/>
<circle cx="477.78" cy="103.28" r="0.7"/>
<circle cx="480.96" cy="91.37" r="0.7"/>
<circle cx="479.9" cy="104.57" r="0.7"/>
<circle cx="483.81" cy="99.2" r="0.7"/>
<circle cx="477.01" cy="98.05" r="0.7"/>
<circle cx="483.5" cy="98.91" r="0.7"/>
<circle cx="481.63" cy="101.74" r="0.7"/>
<circle cx="478.07" cy="101.03" r="0.7"/>
<circle cx="481.7" cy="98.22" r="0.7"/>
<circle cx="483" cy="104.98" r="0.7"/>
<circle cx="478.34" cy="100.56" r="0.7"/>
<circle cx="481.45" cy="105.74" r="0.7"/>
<circle cx="478.95" cy="102.11" r="0.7"/>
<circle cx="480.03" cy="109.2" r="0.7"/>
<circle cx="480.58" cy="108.33" r="0.7"/>
<circle cx="481.34" cy="104.91" r="0.7"/>
<circle cx="480.22" cy="106.37" r="0.7"/>
<circle cx="480.24" cy="106.93" r="0.7"/>
<circle cx="477.95" cy="101.96" r="0.7"/>
<circle cx="483.06" cy="102.86" r="0.7"/>
<circle cx="482.84" cy="109.54" r="0.7"/>
<circle cx="480.88" cy="99.25" r="0.7"/>
<circle cx="482.2" cy="106.19" r="0.7"/>
<circle cx="478.75" cy="108.61" r="0.7"/>
<circle cx="480.17" cy="98.7" r="0.7"/>
<circle cx="477.1" cy="100.81" r="0.7"/>
<circle cx="481.11" cy="108.03" r="0.7"/>
<circle cx="477.33" cy="98.27" r="0.7"/>
<circle cx="481.21" cy="103.04" r="0.7"/>
<circle cx="479.87" cy="108.09" r="0.7"/>
<circle cx="483.4" cy="109.9" r="0.7"/>
<circle cx="482.37" cy="98.04" r="0.7"/>
<circle cx="477.71" cy="105.22" r="0.7"/>
<circle cx="520.3" cy="20.4" r="0.8"/>
<circle cx="519.5" cy="21.5" r="0.8"/>
<circle cx="516.6" cy="30" r="0.8"/>
<circle cx="501.9" cy="39.3" r="0.8"/>
<circle cx="543.8" cy="45" r="0.8"/>
<circle cx="478" cy="79" r="0.8"/>
<circle cx="479" cy="80" r="0.8"/>
<circle cx="477" cy="80" r="0.8"/>
<circle cx="492" cy="89" r="0.8"/>
<circle cx="497" cy="95" r="0.8"/>
<circle cx="495" cy="101" r="0.8"/>
<circle cx="481" cy="81" r="0.8"/>
<circle cx="483" cy="88" r="0.8"/>
<circle cx="486" cy="94" r="0.8"/>
<circle cx="491" cy="97" r="0.8"/>
<circle cx="489" cy="103" r="0.8"/>
<circle cx="486" cy="104" r="0.8"/>
</g>
<line x1="471.7" y1="14.3" x2="471.7" y2="141.8" stroke="#3a3a3a" stroke-width="0.65" stroke-dasharray="2.6,1.2"/>
<line x1="476.3" y1="14.3" x2="476.3" y2="141.8" stroke="#3a3a3a" stroke-width="0.65" stroke-dasharray="2.6,1.2"/>
<line x1="397" y1="110.4" x2="550.6" y2="110.4" stroke="#777" stroke-width="0.75" stroke-dasharray="2.6,1.2"/>
<line x1="462.6" y1="36" x2="467.5" y2="87.5" stroke="#555" stroke-width="0.45"/>
<text x="460.5" y="34.8" font-size="7.0" text-anchor="middle" fill="#222">Mef2c</text>
<line x1="417" y1="54.9" x2="466.4" y2="89.6" stroke="#555" stroke-width="0.45"/>
<text x="420.2" y="52.5" font-size="7.0" text-anchor="middle" fill="#222">Slc17a7</text>
<line x1="451.7" y1="63.3" x2="466.4" y2="87.5" stroke="#555" stroke-width="0.45"/>
<text x="445.4" y="62.1" font-size="7.0" text-anchor="middle" fill="#222">Neurod6</text>
<line x1="412.9" y1="78" x2="468.5" y2="107.4" stroke="#555" stroke-width="0.45"/>
<text x="411.4" y="77.9" font-size="7.0" text-anchor="middle" fill="#222">Plxna4</text>
<line x1="486.3" y1="63.4" x2="470.5" y2="86" stroke="#555" stroke-width="0.45"/>
<text x="493.7" y="62.1" font-size="7.0" text-anchor="middle" fill="#222">Neurod2</text>
<line x1="509.9" y1="62.4" x2="476" y2="93.5" stroke="#555" stroke-width="0.45"/>
<text x="519.4" y="61.7" font-size="7.0" text-anchor="middle" fill="#222">Zeb2</text>
<line x1="518.7" y1="73.7" x2="481.9" y2="94.3" stroke="#555" stroke-width="0.45"/>
<text x="525.3" y="74.3" font-size="7.0" text-anchor="middle" fill="#222">Nfib</text>
<rect x="397" y="14.3" width="153.6" height="127.5" fill="none" stroke="#8a8a8a" stroke-width="1.0"/>
<line x1="395.5" y1="136" x2="397" y2="136" stroke="#666" stroke-width="0.5"/>
<text x="396" y="137.9" font-size="6.7" text-anchor="end" fill="#333">0</text>
<line x1="395.5" y1="96.74" x2="397" y2="96.74" stroke="#666" stroke-width="0.5"/>
<text x="396" y="98.64" font-size="6.7" text-anchor="end" fill="#333">2</text>
<line x1="395.5" y1="57.48" x2="397" y2="57.48" stroke="#666" stroke-width="0.5"/>
<text x="396" y="59.38" font-size="6.7" text-anchor="end" fill="#333">4</text>
<line x1="395.5" y1="18.22" x2="397" y2="18.22" stroke="#666" stroke-width="0.5"/>
<text x="396" y="20.12" font-size="6.7" text-anchor="end" fill="#333">6</text>
<line x1="410.96" y1="141.8" x2="410.96" y2="143.3" stroke="#666" stroke-width="0.5"/>
<text x="410.96" y="150.2" font-size="6.7" text-anchor="middle" fill="#333">-16</text>
<line x1="442.48" y1="141.8" x2="442.48" y2="143.3" stroke="#666" stroke-width="0.5"/>
<text x="442.48" y="150.2" font-size="6.7" text-anchor="middle" fill="#333">-8</text>
<line x1="458.24" y1="141.8" x2="458.24" y2="143.3" stroke="#666" stroke-width="0.5"/>
<text x="458.24" y="150.2" font-size="6.7" text-anchor="middle" fill="#333">-4</text>
<line x1="466.12" y1="141.8" x2="466.12" y2="143.3" stroke="#666" stroke-width="0.5"/>
<text x="466.12" y="150.2" font-size="6.7" text-anchor="middle" fill="#333">-2</text>
<line x1="474" y1="141.8" x2="474" y2="143.3" stroke="#666" stroke-width="0.5"/>
<text x="474" y="150.2" font-size="6.7" text-anchor="middle" fill="#333">0</text>
<line x1="481.88" y1="141.8" x2="481.88" y2="143.3" stroke="#666" stroke-width="0.5"/>
<text x="481.88" y="150.2" font-size="6.7" text-anchor="middle" fill="#333">2</text>
<line x1="489.76" y1="141.8" x2="489.76" y2="143.3" stroke="#666" stroke-width="0.5"/>
<text x="489.76" y="150.2" font-size="6.7" text-anchor="middle" fill="#333">4</text>
<line x1="505.52" y1="141.8" x2="505.52" y2="143.3" stroke="#666" stroke-width="0.5"/>
<text x="505.52" y="150.2" font-size="6.7" text-anchor="middle" fill="#333">8</text>
<line x1="537.04" y1="141.8" x2="537.04" y2="143.3" stroke="#666" stroke-width="0.5"/>
<text x="537.04" y="150.2" font-size="6.7" text-anchor="middle" fill="#333">16</text>
<text x="471.9" y="6.6" font-size="8.4" text-anchor="middle" fill="#222">Fetal Brain</text>
<text x="481" y="156" font-size="6.9" text-anchor="middle" fill="#222">Log<tspan font-size="6.0" dx="1.2" dy="2.3">2</tspan><tspan dx="0.4" dy="-2.3">(Fold Change)</tspan></text>
<text x="389.7" y="74.6" font-size="6.9" text-anchor="middle" fill="#222" transform="rotate(-90 389.7 74.6)">−Log<tspan font-size="6.0" dx="0.5" dy="2.3">10</tspan><tspan dx="0.3" dy="-2.3">(P-value)</tspan></text>
<text x="556.7" y="69.9" font-size="6.7" text-anchor="start" fill="#222">Statistics</text>
<circle cx="559.3" cy="75" r="0.7" fill="#e0474c"/>
<text x="565.1" y="77.2" font-size="6.8" text-anchor="start" fill="#222">Up: 141</text>
<circle cx="559.3" cy="80.8" r="0.7" fill="#7fd0cf"/>
<text x="565.1" y="83" font-size="6.8" text-anchor="start" fill="#222">Down: 143</text>
<circle cx="559.3" cy="86.6" r="0.7" fill="#bebebe"/>
<text x="565.1" y="88.8" font-size="6.8" text-anchor="start" fill="#222">Insignificant: 19229</text>
<rect x="206.4" y="183" width="131.28" height="5.9" fill="#b0dedc"/>
<text x="198.9" y="188.35" font-size="6.85" text-anchor="end" fill="#222">response to virus</text>
<rect x="206.4" y="198.08" width="128.16" height="5.9" fill="#b0dedc"/>
<rect x="206.4" y="198.08" width="8.08" height="5.9" fill="#e05a60"/>
<text x="198.9" y="203.43" font-size="6.85" text-anchor="end" fill="#222">regulation of response to biotic stimulus</text>
<rect x="206.4" y="213.16" width="128.16" height="5.9" fill="#b0dedc"/>
<rect x="206.4" y="213.16" width="16.08" height="5.9" fill="#e05a60"/>
<text x="198.9" y="218.51" font-size="6.85" text-anchor="end" fill="#222">regulation of metal ion transport</text>
<rect x="206.4" y="228.24" width="120" height="5.9" fill="#b0dedc"/>
<rect x="206.4" y="228.24" width="8.08" height="5.9" fill="#e05a60"/>
<text x="198.9" y="233.59" font-size="6.85" text-anchor="end" fill="#222">regulation of cation transmembrane transport</text>
<rect x="206.4" y="243.32" width="131.28" height="5.9" fill="#b0dedc"/>
<text x="198.9" y="248.67" font-size="6.85" text-anchor="end" fill="#222">positive regulation of response to external stimulus</text>
<rect x="206.4" y="258.4" width="131.28" height="5.9" fill="#b0dedc"/>
<text x="198.9" y="263.75" font-size="6.85" text-anchor="end" fill="#222">negative regulation of immune system process</text>
<rect x="206.4" y="273.48" width="112.16" height="5.9" fill="#b0dedc"/>
<text x="198.9" y="278.83" font-size="6.85" text-anchor="end" fill="#222">leukocyte proliferation</text>
<rect x="206.4" y="288.56" width="128.16" height="5.9" fill="#b0dedc"/>
<text x="198.9" y="293.91" font-size="6.85" text-anchor="end" fill="#222">defense response to virus</text>
<rect x="206.4" y="303.64" width="128.16" height="5.9" fill="#b0dedc"/>
<text x="198.9" y="308.99" font-size="6.85" text-anchor="end" fill="#222">defense response to symbiont</text>
<rect x="206.4" y="318.72" width="120" height="5.9" fill="#b0dedc"/>
<rect x="206.4" y="318.72" width="8.08" height="5.9" fill="#e05a60"/>
<text x="198.9" y="319.87" font-size="6.85" text-anchor="end" fill="#222">adaptive immune response based on somatic recombination of</text>
<text x="198.9" y="328.47" font-size="6.85" text-anchor="end" fill="#222">immune receptors built from immunoglobulin superfamily domains</text>
<line x1="206.4" y1="176.8" x2="206.4" y2="330.6" stroke="#555" stroke-width="0.9"/>
<line x1="199.2" y1="330.6" x2="338.1" y2="330.6" stroke="#555" stroke-width="0.9"/>
<line x1="206.4" y1="330.6" x2="206.4" y2="332.2" stroke="#555" stroke-width="0.6"/>
<text x="206.4" y="338.7" font-size="6.7" text-anchor="middle" fill="#333">0</text>
<line x1="246.4" y1="330.6" x2="246.4" y2="332.2" stroke="#555" stroke-width="0.6"/>
<text x="246.4" y="338.7" font-size="6.7" text-anchor="middle" fill="#333">5</text>
<line x1="286.4" y1="330.6" x2="286.4" y2="332.2" stroke="#555" stroke-width="0.6"/>
<text x="286.4" y="338.7" font-size="6.7" text-anchor="middle" fill="#333">10</text>
<line x1="326.4" y1="330.6" x2="326.4" y2="332.2" stroke="#555" stroke-width="0.6"/>
<text x="326.4" y="338.7" font-size="6.7" text-anchor="middle" fill="#333">15</text>
<text x="211.5" y="172.3" font-size="6.8" text-anchor="middle" fill="#222">GO Enriched pathway</text>
<rect x="508.7" y="183.8" width="109.89" height="6" fill="#b0dedc"/>
<text x="502.2" y="189.2" font-size="6.85" text-anchor="end" fill="#222">telencephalon development</text>
<rect x="508.7" y="198.85" width="99.9" height="6" fill="#b0dedc"/>
<rect x="508.7" y="198.85" width="39.96" height="6" fill="#e05a60"/>
<text x="502.2" y="204.25" font-size="6.85" text-anchor="end" fill="#222">positive regulation of cell development</text>
<rect x="508.7" y="213.9" width="109.89" height="6" fill="#b0dedc"/>
<rect x="508.7" y="213.9" width="39.96" height="6" fill="#e05a60"/>
<text x="502.2" y="219.3" font-size="6.85" text-anchor="end" fill="#222">organic hydroxy compound transport</text>
<rect x="508.7" y="228.95" width="129.87" height="6" fill="#b0dedc"/>
<rect x="508.7" y="228.95" width="49.95" height="6" fill="#e05a60"/>
<text x="502.2" y="234.35" font-size="6.85" text-anchor="end" fill="#222">lipid transport</text>
<rect x="508.7" y="244" width="129.87" height="6" fill="#b0dedc"/>
<rect x="508.7" y="244" width="49.95" height="6" fill="#e05a60"/>
<text x="502.2" y="249.4" font-size="6.85" text-anchor="end" fill="#222">lipid localization</text>
<rect x="508.7" y="259.05" width="109.89" height="6" fill="#b0dedc"/>
<text x="502.2" y="264.45" font-size="6.85" text-anchor="end" fill="#222">forebrain development</text>
<rect x="508.7" y="274.1" width="99.9" height="6" fill="#b0dedc"/>
<rect x="508.7" y="274.1" width="59.94" height="6" fill="#e05a60"/>
<text x="502.2" y="279.5" font-size="6.85" text-anchor="end" fill="#222">fatty acid metabolic process</text>
<rect x="508.7" y="289.15" width="99.9" height="6" fill="#b0dedc"/>
<text x="502.2" y="294.55" font-size="6.85" text-anchor="end" fill="#222">cognition</text>
<rect x="508.7" y="304.2" width="99.9" height="6" fill="#b0dedc"/>
<rect x="508.7" y="304.2" width="19.98" height="6" fill="#e05a60"/>
<text x="502.2" y="309.6" font-size="6.85" text-anchor="end" fill="#222">central nervous system neuron differentiation</text>
<rect x="508.7" y="319.25" width="109.89" height="6" fill="#b0dedc"/>
<rect x="508.7" y="319.25" width="9.99" height="6" fill="#e05a60"/>
<text x="502.2" y="324.65" font-size="6.85" text-anchor="end" fill="#222">axonogenesis</text>
<line x1="508.7" y1="178.2" x2="508.7" y2="331.1" stroke="#999" stroke-width="0.9"/>
<line x1="502.2" y1="331.1" x2="644.7" y2="331.1" stroke="#999" stroke-width="0.9"/>
<line x1="508.7" y1="331.1" x2="508.7" y2="332.7" stroke="#999" stroke-width="0.6"/>
<text x="508.7" y="339.2" font-size="6.7" text-anchor="middle" fill="#333">0</text>
<line x1="558.65" y1="331.1" x2="558.65" y2="332.7" stroke="#999" stroke-width="0.6"/>
<text x="558.65" y="339.2" font-size="6.7" text-anchor="middle" fill="#333">5</text>
<line x1="608.6" y1="331.1" x2="608.6" y2="332.7" stroke="#999" stroke-width="0.6"/>
<text x="608.6" y="339.2" font-size="6.7" text-anchor="middle" fill="#333">10</text>
<text x="514.1" y="172.3" font-size="6.8" text-anchor="middle" fill="#222">GO Enriched pathway</text>
<rect x="658.1" y="251.9" width="6.8" height="6.1" fill="#b0dedc"/>
<rect x="658.1" y="258" width="6.8" height="6.9" fill="#e05a60"/>
<text x="667.8" y="256.9" font-size="6.6" text-anchor="start" fill="#222">Down</text>
<text x="667.8" y="263.8" font-size="6.6" text-anchor="start" fill="#222">Up</text>
<rect x="46.7" y="403.9" width="12.7" height="48.1" fill="#f0c9c9"/>
<rect x="60.9" y="444.6" width="12.6" height="7.4" fill="#9ac4e4"/>
<circle cx="52.5" cy="378.9" r="1.15" fill="none" stroke="#c48e8e" stroke-width="0.5"/>
<circle cx="54.6" cy="387" r="1.15" fill="none" stroke="#c48e8e" stroke-width="0.5"/>
<circle cx="54.3" cy="391.4" r="1.15" fill="none" stroke="#c48e8e" stroke-width="0.5"/>
<circle cx="51.6" cy="420.7" r="1.15" fill="none" stroke="#c48e8e" stroke-width="0.5"/>
<circle cx="53.4" cy="420.9" r="1.15" fill="none" stroke="#c48e8e" stroke-width="0.5"/>
<circle cx="52" cy="424.5" r="1.15" fill="none" stroke="#c48e8e" stroke-width="0.5"/>
<circle cx="67.5" cy="433.6" r="1.15" fill="#8fb4dc" stroke="#5b84b1" stroke-width="0.55"/>
<circle cx="68.4" cy="436" r="1.15" fill="#8fb4dc" stroke="#5b84b1" stroke-width="0.55"/>
<circle cx="67" cy="450.5" r="1.15" fill="#8fb4dc" stroke="#5b84b1" stroke-width="0.55"/>
<circle cx="66.5" cy="446" r="1.15" fill="#8fb4dc" stroke="#5b84b1" stroke-width="0.55"/>
<line x1="53" y1="395.4" x2="53" y2="412.5" stroke="#333" stroke-width="0.6"/>
<line x1="51.3" y1="395.4" x2="54.7" y2="395.4" stroke="#333" stroke-width="0.6"/>
<line x1="51.3" y1="412.5" x2="54.7" y2="412.5" stroke="#333" stroke-width="0.6"/>
<line x1="67.2" y1="441.4" x2="67.2" y2="448.6" stroke="#333" stroke-width="0.6"/>
<line x1="65.5" y1="441.4" x2="68.9" y2="441.4" stroke="#333" stroke-width="0.6"/>
<line x1="65.5" y1="448.6" x2="68.9" y2="448.6" stroke="#333" stroke-width="0.6"/>
<line x1="51.1" y1="373.2" x2="68.9" y2="373.2" stroke="#444" stroke-width="0.6"/>
<text x="60" y="371.1" font-size="7.2" text-anchor="middle" fill="#222">**</text>
<text x="67" y="458.5" font-size="7.0" text-anchor="end" fill="#222" transform="rotate(-45 67 458.5)">Ccl2</text>
<rect x="82.6" y="403.9" width="12.7" height="48.1" fill="#f0c9c9"/>
<rect x="97" y="437.9" width="12.6" height="14.1" fill="#9ac4e4"/>
<circle cx="87.7" cy="378" r="1.15" fill="none" stroke="#c48e8e" stroke-width="0.5"/>
<circle cx="89.7" cy="384.3" r="1.15" fill="none" stroke="#c48e8e" stroke-width="0.5"/>
<circle cx="87.5" cy="417.3" r="1.15" fill="none" stroke="#c48e8e" stroke-width="0.5"/>
<circle cx="89.2" cy="422.7" r="1.15" fill="none" stroke="#c48e8e" stroke-width="0.5"/>
<circle cx="89" cy="425" r="1.15" fill="none" stroke="#c48e8e" stroke-width="0.5"/>
<circle cx="102.5" cy="432.5" r="1.15" fill="#8fb4dc" stroke="#5b84b1" stroke-width="0.55"/>
<circle cx="103.5" cy="434" r="1.15" fill="#8fb4dc" stroke="#5b84b1" stroke-width="0.55"/>
<circle cx="102.8" cy="445.5" r="1.15" fill="#8fb4dc" stroke="#5b84b1" stroke-width="0.55"/>
<circle cx="102" cy="447" r="1.15" fill="#8fb4dc" stroke="#5b84b1" stroke-width="0.55"/>
<line x1="88.9" y1="396.4" x2="88.9" y2="412.3" stroke="#333" stroke-width="0.6"/>
<line x1="87.2" y1="396.4" x2="90.6" y2="396.4" stroke="#333" stroke-width="0.6"/>
<line x1="87.2" y1="412.3" x2="90.6" y2="412.3" stroke="#333" stroke-width="0.6"/>
<line x1="103.3" y1="435.2" x2="103.3" y2="440.2" stroke="#333" stroke-width="0.6"/>
<line x1="101.6" y1="435.2" x2="105" y2="435.2" stroke="#333" stroke-width="0.6"/>
<line x1="101.6" y1="440.2" x2="105" y2="440.2" stroke="#333" stroke-width="0.6"/>
<line x1="86.8" y1="373.2" x2="104.6" y2="373.2" stroke="#444" stroke-width="0.6"/>
<text x="95.7" y="371.1" font-size="7.2" text-anchor="middle" fill="#222">**</text>
<text x="103" y="458.5" font-size="7.0" text-anchor="end" fill="#222" transform="rotate(-45 103 458.5)">Ccr2</text>
<rect x="118.5" y="407" width="12.7" height="45" fill="#f0c9c9"/>
<rect x="132.9" y="440" width="12.6" height="12" fill="#9ac4e4"/>
<circle cx="124.8" cy="396" r="1.15" fill="none" stroke="#c48e8e" stroke-width="0.5"/>
<circle cx="125.5" cy="405" r="1.15" fill="none" stroke="#c48e8e" stroke-width="0.5"/>
<circle cx="125.9" cy="412" r="1.15" fill="none" stroke="#c48e8e" stroke-width="0.5"/>
<circle cx="124.4" cy="415.5" r="1.15" fill="none" stroke="#c48e8e" stroke-width="0.5"/>
<circle cx="140.5" cy="430.5" r="1.15" fill="#8fb4dc" stroke="#5b84b1" stroke-width="0.55"/>
<circle cx="139.8" cy="433" r="1.15" fill="#8fb4dc" stroke="#5b84b1" stroke-width="0.55"/>
<circle cx="139.3" cy="441" r="1.15" fill="#8fb4dc" stroke="#5b84b1" stroke-width="0.55"/>
<circle cx="138.5" cy="448.5" r="1.15" fill="#8fb4dc" stroke="#5b84b1" stroke-width="0.55"/>
<circle cx="140.5" cy="448.5" r="1.15" fill="#8fb4dc" stroke="#5b84b1" stroke-width="0.55"/>
<line x1="124.8" y1="403.9" x2="124.8" y2="408.4" stroke="#333" stroke-width="0.6"/>
<line x1="123.1" y1="403.9" x2="126.5" y2="403.9" stroke="#333" stroke-width="0.6"/>
<line x1="123.1" y1="408.4" x2="126.5" y2="408.4" stroke="#333" stroke-width="0.6"/>
<line x1="139.2" y1="436.6" x2="139.2" y2="443.2" stroke="#333" stroke-width="0.6"/>
<line x1="137.5" y1="436.6" x2="140.9" y2="436.6" stroke="#333" stroke-width="0.6"/>
<line x1="137.5" y1="443.2" x2="140.9" y2="443.2" stroke="#333" stroke-width="0.6"/>
<line x1="124.8" y1="391.4" x2="142.1" y2="391.4" stroke="#444" stroke-width="0.6"/>
<text x="133.45" y="389.3" font-size="7.2" text-anchor="middle" fill="#222">***</text>
<text x="138.9" y="458.5" font-size="7.0" text-anchor="end" fill="#222" transform="rotate(-45 138.9 458.5)">Ifit1</text>
<rect x="154.3" y="401.3" width="12.7" height="50.7" fill="#f0c9c9"/>
<rect x="168.9" y="425.9" width="12.6" height="26.1" fill="#9ac4e4"/>
<circle cx="161.4" cy="378.2" r="1.15" fill="none" stroke="#c48e8e" stroke-width="0.5"/>
<circle cx="161" cy="400" r="1.15" fill="none" stroke="#c48e8e" stroke-width="0.5"/>
<circle cx="159.6" cy="423" r="1.15" fill="none" stroke="#c48e8e" stroke-width="0.5"/>
<circle cx="159.6" cy="432.5" r="1.15" fill="none" stroke="#c48e8e" stroke-width="0.5"/>
<circle cx="173.4" cy="412.9" r="1.15" fill="#8fb4dc" stroke="#5b84b1" stroke-width="0.55"/>
<circle cx="174.3" cy="416.8" r="1.15" fill="#8fb4dc" stroke="#5b84b1" stroke-width="0.55"/>
<circle cx="176.6" cy="411.4" r="1.15" fill="#8fb4dc" stroke="#5b84b1" stroke-width="0.55"/>
<circle cx="174.6" cy="431.6" r="1.15" fill="#8fb4dc" stroke="#5b84b1" stroke-width="0.55"/>
<circle cx="173.9" cy="441.1" r="1.15" fill="#8fb4dc" stroke="#5b84b1" stroke-width="0.55"/>
<line x1="160.6" y1="390.5" x2="160.6" y2="412.3" stroke="#333" stroke-width="0.6"/>
<line x1="158.9" y1="390.5" x2="162.3" y2="390.5" stroke="#333" stroke-width="0.6"/>
<line x1="158.9" y1="412.3" x2="162.3" y2="412.3" stroke="#333" stroke-width="0.6"/>
<line x1="175.2" y1="420.4" x2="175.2" y2="431.6" stroke="#333" stroke-width="0.6"/>
<line x1="173.5" y1="420.4" x2="176.9" y2="420.4" stroke="#333" stroke-width="0.6"/>
<line x1="173.5" y1="431.6" x2="176.9" y2="431.6" stroke="#333" stroke-width="0.6"/>
<text x="174.8" y="458.5" font-size="7.0" text-anchor="end" fill="#222" transform="rotate(-45 174.8 458.5)">Ifit3</text>
<rect x="190.2" y="407.1" width="12.7" height="44.9" fill="#f0c9c9"/>
<rect x="204.6" y="421.4" width="12.6" height="30.6" fill="#9ac4e4"/>
<circle cx="196" cy="403.6" r="1.15" fill="none" stroke="#c48e8e" stroke-width="0.5"/>
<circle cx="197.5" cy="404.5" r="1.15" fill="none" stroke="#c48e8e" stroke-width="0.5"/>
<circle cx="196.3" cy="412.5" r="1.15" fill="none" stroke="#c48e8e" stroke-width="0.5"/>
<circle cx="211.8" cy="384.5" r="1.15" fill="#8fb4dc" stroke="#5b84b1" stroke-width="0.55"/>
<circle cx="211.3" cy="388.8" r="1.15" fill="#8fb4dc" stroke="#5b84b1" stroke-width="0.55"/>
<circle cx="212" cy="447.9" r="1.15" fill="#8fb4dc" stroke="#5b84b1" stroke-width="0.55"/>
<circle cx="211" cy="431" r="1.15" fill="#8fb4dc" stroke="#5b84b1" stroke-width="0.55"/>
<line x1="196.5" y1="405.2" x2="196.5" y2="408.9" stroke="#333" stroke-width="0.6"/>
<line x1="194.8" y1="405.2" x2="198.2" y2="405.2" stroke="#333" stroke-width="0.6"/>
<line x1="194.8" y1="408.9" x2="198.2" y2="408.9" stroke="#333" stroke-width="0.6"/>
<line x1="210.9" y1="409.3" x2="210.9" y2="433.4" stroke="#333" stroke-width="0.6"/>
<line x1="209.2" y1="409.3" x2="212.6" y2="409.3" stroke="#333" stroke-width="0.6"/>
<line x1="209.2" y1="433.4" x2="212.6" y2="433.4" stroke="#333" stroke-width="0.6"/>
<text x="210.6" y="458.5" font-size="7.0" text-anchor="end" fill="#222" transform="rotate(-45 210.6 458.5)">Mx1</text>
<rect x="226.2" y="406.6" width="12.7" height="45.4" fill="#f0c9c9"/>
<rect x="240.7" y="443.8" width="12.6" height="8.2" fill="#9ac4e4"/>
<circle cx="233" cy="393.4" r="1.15" fill="none" stroke="#c48e8e" stroke-width="0.5"/>
<circle cx="232.3" cy="398.4" r="1.15" fill="none" stroke="#c48e8e" stroke-width="0.5"/>
<circle cx="231.5" cy="413" r="1.15" fill="none" stroke="#c48e8e" stroke-width="0.5"/>
<circle cx="232.8" cy="419.3" r="1.15" fill="none" stroke="#c48e8e" stroke-width="0.5"/>
<circle cx="246" cy="440.5" r="1.15" fill="#8fb4dc" stroke="#5b84b1" stroke-width="0.55"/>
<circle cx="247.5" cy="442" r="1.15" fill="#8fb4dc" stroke="#5b84b1" stroke-width="0.55"/>
<circle cx="246.5" cy="447.5" r="1.15" fill="#8fb4dc" stroke="#5b84b1" stroke-width="0.55"/>
<line x1="232.5" y1="402.7" x2="232.5" y2="410.2" stroke="#333" stroke-width="0.6"/>
<line x1="230.8" y1="402.7" x2="234.2" y2="402.7" stroke="#333" stroke-width="0.6"/>
<line x1="230.8" y1="410.2" x2="234.2" y2="410.2" stroke="#333" stroke-width="0.6"/>
<line x1="247" y1="441.4" x2="247" y2="445" stroke="#333" stroke-width="0.6"/>
<line x1="245.3" y1="441.4" x2="248.7" y2="441.4" stroke="#333" stroke-width="0.6"/>
<line x1="245.3" y1="445" x2="248.7" y2="445" stroke="#333" stroke-width="0.6"/>
<line x1="229.3" y1="387.3" x2="247" y2="387.3" stroke="#444" stroke-width="0.6"/>
<text x="238.15" y="385.2" font-size="7.2" text-anchor="middle" fill="#222">**</text>
<text x="246.65" y="458.5" font-size="7.0" text-anchor="end" fill="#222" transform="rotate(-45 246.65 458.5)">Tlr7</text>
<line x1="38.6" y1="345" x2="38.6" y2="452.3" stroke="#555" stroke-width="0.8"/>
<line x1="38.6" y1="452" x2="261.4" y2="452" stroke="#555" stroke-width="0.8"/>
<text x="38" y="453.2" font-size="6.6" text-anchor="end" fill="#333">0</text>
<text x="38" y="408.2" font-size="6.6" text-anchor="end" fill="#333">1</text>
<text x="38" y="363.2" font-size="6.6" text-anchor="end" fill="#333">2</text>
<rect x="401.1" y="427.6" width="12.7" height="24.7" fill="#f0c9c9"/>
<rect x="415.6" y="437" width="12.6" height="15.3" fill="#9ac4e4"/>
<circle cx="407.1" cy="417.5" r="1.15" fill="none" stroke="#c48e8e" stroke-width="0.5"/>
<circle cx="408" cy="425.6" r="1.15" fill="none" stroke="#c48e8e" stroke-width="0.5"/>
<circle cx="407.6" cy="436.3" r="1.15" fill="none" stroke="#c48e8e" stroke-width="0.5"/>
<circle cx="422.5" cy="431.5" r="1.15" fill="#8fb4dc" stroke="#5b84b1" stroke-width="0.55"/>
<circle cx="421" cy="442.5" r="1.15" fill="#8fb4dc" stroke="#5b84b1" stroke-width="0.55"/>
<circle cx="424" cy="442.5" r="1.15" fill="#8fb4dc" stroke="#5b84b1" stroke-width="0.55"/>
<line x1="407.4" y1="424.9" x2="407.4" y2="430.7" stroke="#333" stroke-width="0.6"/>
<line x1="405.7" y1="424.9" x2="409.1" y2="424.9" stroke="#333" stroke-width="0.6"/>
<line x1="405.7" y1="430.7" x2="409.1" y2="430.7" stroke="#333" stroke-width="0.6"/>
<line x1="421.9" y1="435.1" x2="421.9" y2="439.1" stroke="#333" stroke-width="0.6"/>
<line x1="420.2" y1="435.1" x2="423.6" y2="435.1" stroke="#333" stroke-width="0.6"/>
<line x1="420.2" y1="439.1" x2="423.6" y2="439.1" stroke="#333" stroke-width="0.6"/>
<line x1="406" y1="408.7" x2="423.7" y2="408.7" stroke="#444" stroke-width="0.6"/>
<text x="414.85" y="406.6" font-size="7.2" text-anchor="middle" fill="#222">*</text>
<text x="421.55" y="458.8" font-size="7.0" text-anchor="end" fill="#222" transform="rotate(-45 421.55 458.8)">Mef2c</text>
<rect x="437.2" y="420.9" width="12.7" height="31.4" fill="#f0c9c9"/>
<rect x="451.7" y="432.9" width="12.6" height="19.4" fill="#9ac4e4"/>
<circle cx="445" cy="422.5" r="1.15" fill="none" stroke="#c48e8e" stroke-width="0.5"/>
<circle cx="443" cy="430.5" r="1.15" fill="none" stroke="#c48e8e" stroke-width="0.5"/>
<circle cx="444.5" cy="444" r="1.15" fill="none" stroke="#c48e8e" stroke-width="0.5"/>
<circle cx="444.9" cy="364.9" r="1.15" fill="none" stroke="#c48e8e" stroke-width="0.5"/>
<circle cx="456.5" cy="422.3" r="1.15" fill="#8fb4dc" stroke="#5b84b1" stroke-width="0.55"/>
<circle cx="458" cy="429" r="1.15" fill="#8fb4dc" stroke="#5b84b1" stroke-width="0.55"/>
<circle cx="458.5" cy="439.6" r="1.15" fill="#8fb4dc" stroke="#5b84b1" stroke-width="0.55"/>
<circle cx="457" cy="443.5" r="1.15" fill="#8fb4dc" stroke="#5b84b1" stroke-width="0.55"/>
<line x1="443.5" y1="409.4" x2="443.5" y2="432.3" stroke="#333" stroke-width="0.6"/>
<line x1="441.8" y1="409.4" x2="445.2" y2="409.4" stroke="#333" stroke-width="0.6"/>
<line x1="441.8" y1="432.3" x2="445.2" y2="432.3" stroke="#333" stroke-width="0.6"/>
<line x1="458" y1="429.1" x2="458" y2="436.4" stroke="#333" stroke-width="0.6"/>
<line x1="456.3" y1="429.1" x2="459.7" y2="429.1" stroke="#333" stroke-width="0.6"/>
<line x1="456.3" y1="436.4" x2="459.7" y2="436.4" stroke="#333" stroke-width="0.6"/>
<text x="457.65" y="458.8" font-size="7.0" text-anchor="end" fill="#222" transform="rotate(-45 457.65 458.8)">Neurod2</text>
<rect x="473.1" y="427.1" width="12.7" height="25.2" fill="#f0c9c9"/>
<rect x="487.6" y="441.4" width="12.6" height="10.9" fill="#9ac4e4"/>
<circle cx="479" cy="415.3" r="1.15" fill="none" stroke="#c48e8e" stroke-width="0.5"/>
<circle cx="479.3" cy="419.8" r="1.15" fill="none" stroke="#c48e8e" stroke-width="0.5"/>
<circle cx="479.5" cy="432.5" r="1.15" fill="none" stroke="#c48e8e" stroke-width="0.5"/>
<circle cx="481" cy="436" r="1.15" fill="none" stroke="#c48e8e" stroke-width="0.5"/>
<circle cx="492.4" cy="431" r="1.15" fill="#8fb4dc" stroke="#5b84b1" stroke-width="0.55"/>
<circle cx="493" cy="443" r="1.15" fill="#8fb4dc" stroke="#5b84b1" stroke-width="0.55"/>
<circle cx="494.5" cy="442.5" r="1.15" fill="#8fb4dc" stroke="#5b84b1" stroke-width="0.55"/>
<line x1="479.4" y1="424.2" x2="479.4" y2="430.5" stroke="#333" stroke-width="0.6"/>
<line x1="477.7" y1="424.2" x2="481.1" y2="424.2" stroke="#333" stroke-width="0.6"/>
<line x1="477.7" y1="430.5" x2="481.1" y2="430.5" stroke="#333" stroke-width="0.6"/>
<line x1="493.9" y1="439.4" x2="493.9" y2="443.9" stroke="#333" stroke-width="0.6"/>
<line x1="492.2" y1="439.4" x2="495.6" y2="439.4" stroke="#333" stroke-width="0.6"/>
<line x1="492.2" y1="443.9" x2="495.6" y2="443.9" stroke="#333" stroke-width="0.6"/>
<line x1="477.6" y1="405.3" x2="494.9" y2="405.3" stroke="#444" stroke-width="0.6"/>
<text x="486.25" y="403.2" font-size="7.2" text-anchor="middle" fill="#222">*</text>
<text x="493.55" y="458.8" font-size="7.0" text-anchor="end" fill="#222" transform="rotate(-45 493.55 458.8)">Nfib</text>
<rect x="509.2" y="427.1" width="12.7" height="25.2" fill="#f0c9c9"/>
<rect x="523.3" y="442.2" width="12.6" height="10.1" fill="#9ac4e4"/>
<circle cx="514.5" cy="419.8" r="1.15" fill="none" stroke="#c48e8e" stroke-width="0.5"/>
<circle cx="517" cy="419.8" r="1.15" fill="none" stroke="#c48e8e" stroke-width="0.5"/>
<circle cx="516.5" cy="434.2" r="1.15" fill="none" stroke="#c48e8e" stroke-width="0.5"/>
<circle cx="516.5" cy="438.5" r="1.15" fill="none" stroke="#c48e8e" stroke-width="0.5"/>
<circle cx="528" cy="435.6" r="1.15" fill="#8fb4dc" stroke="#5b84b1" stroke-width="0.55"/>
<circle cx="530" cy="437" r="1.15" fill="#8fb4dc" stroke="#5b84b1" stroke-width="0.55"/>
<circle cx="530.5" cy="443.8" r="1.15" fill="#8fb4dc" stroke="#5b84b1" stroke-width="0.55"/>
<line x1="515.5" y1="423.4" x2="515.5" y2="430.5" stroke="#333" stroke-width="0.6"/>
<line x1="513.8" y1="423.4" x2="517.2" y2="423.4" stroke="#333" stroke-width="0.6"/>
<line x1="513.8" y1="430.5" x2="517.2" y2="430.5" stroke="#333" stroke-width="0.6"/>
<line x1="529.6" y1="440.2" x2="529.6" y2="445.1" stroke="#333" stroke-width="0.6"/>
<line x1="527.9" y1="440.2" x2="531.3" y2="440.2" stroke="#333" stroke-width="0.6"/>
<line x1="527.9" y1="445.1" x2="531.3" y2="445.1" stroke="#333" stroke-width="0.6"/>
<line x1="513" y1="406.4" x2="530.5" y2="406.4" stroke="#444" stroke-width="0.6"/>
<text x="521.75" y="404.3" font-size="7.2" text-anchor="middle" fill="#222">**</text>
<text x="529.45" y="458.8" font-size="7.0" text-anchor="end" fill="#222" transform="rotate(-45 529.45 458.8)">Plxna4</text>
<rect x="545" y="425.1" width="12.7" height="27.2" fill="#f0c9c9"/>
<rect x="559.3" y="445.1" width="12.6" height="7.2" fill="#9ac4e4"/>
<circle cx="550.8" cy="398.8" r="1.15" fill="none" stroke="#c48e8e" stroke-width="0.5"/>
<circle cx="551.6" cy="422.5" r="1.15" fill="none" stroke="#c48e8e" stroke-width="0.5"/>
<circle cx="550.5" cy="432" r="1.15" fill="none" stroke="#c48e8e" stroke-width="0.5"/>
<circle cx="551" cy="436" r="1.15" fill="none" stroke="#c48e8e" stroke-width="0.5"/>
<circle cx="550.8" cy="439" r="1.15" fill="none" stroke="#c48e8e" stroke-width="0.5"/>
<circle cx="564.9" cy="438.9" r="1.15" fill="#8fb4dc" stroke="#5b84b1" stroke-width="0.55"/>
<circle cx="565.5" cy="444" r="1.15" fill="#8fb4dc" stroke="#5b84b1" stroke-width="0.55"/>
<circle cx="566" cy="449" r="1.15" fill="#8fb4dc" stroke="#5b84b1" stroke-width="0.55"/>
<circle cx="565" cy="451" r="1.15" fill="#8fb4dc" stroke="#5b84b1" stroke-width="0.55"/>
<line x1="551.3" y1="419.5" x2="551.3" y2="431.3" stroke="#333" stroke-width="0.6"/>
<line x1="549.6" y1="419.5" x2="553" y2="419.5" stroke="#333" stroke-width="0.6"/>
<line x1="549.6" y1="431.3" x2="553" y2="431.3" stroke="#333" stroke-width="0.6"/>
<line x1="565.6" y1="443.6" x2="565.6" y2="446.4" stroke="#333" stroke-width="0.6"/>
<line x1="563.9" y1="443.6" x2="567.3" y2="443.6" stroke="#333" stroke-width="0.6"/>
<line x1="563.9" y1="446.4" x2="567.3" y2="446.4" stroke="#333" stroke-width="0.6"/>
<line x1="547.1" y1="390.5" x2="564.4" y2="390.5" stroke="#444" stroke-width="0.6"/>
<text x="555.75" y="388.4" font-size="7.2" text-anchor="middle" fill="#222">**</text>
<text x="565.35" y="458.8" font-size="7.0" text-anchor="end" fill="#222" transform="rotate(-45 565.35 458.8)">Slc17a7</text>
<rect x="581.2" y="427.1" width="12.7" height="25.2" fill="#f0c9c9"/>
<rect x="595.4" y="438.9" width="12.6" height="13.4" fill="#9ac4e4"/>
<circle cx="587" cy="417.2" r="1.15" fill="none" stroke="#c48e8e" stroke-width="0.5"/>
<circle cx="587.5" cy="424" r="1.15" fill="none" stroke="#c48e8e" stroke-width="0.5"/>
<circle cx="588.8" cy="430" r="1.15" fill="none" stroke="#c48e8e" stroke-width="0.5"/>
<circle cx="588.2" cy="440.4" r="1.15" fill="none" stroke="#c48e8e" stroke-width="0.5"/>
<circle cx="601.8" cy="432.5" r="1.15" fill="#8fb4dc" stroke="#5b84b1" stroke-width="0.55"/>
<circle cx="601" cy="435.5" r="1.15" fill="#8fb4dc" stroke="#5b84b1" stroke-width="0.55"/>
<circle cx="600.5" cy="441.5" r="1.15" fill="#8fb4dc" stroke="#5b84b1" stroke-width="0.55"/>
<circle cx="600" cy="443.5" r="1.15" fill="#8fb4dc" stroke="#5b84b1" stroke-width="0.55"/>
<line x1="587.5" y1="423.7" x2="587.5" y2="430.5" stroke="#333" stroke-width="0.6"/>
<line x1="585.8" y1="423.7" x2="589.2" y2="423.7" stroke="#333" stroke-width="0.6"/>
<line x1="585.8" y1="430.5" x2="589.2" y2="430.5" stroke="#333" stroke-width="0.6"/>
<line x1="601.7" y1="437.2" x2="601.7" y2="441" stroke="#333" stroke-width="0.6"/>
<line x1="600" y1="437.2" x2="603.4" y2="437.2" stroke="#333" stroke-width="0.6"/>
<line x1="600" y1="441" x2="603.4" y2="441" stroke="#333" stroke-width="0.6"/>
<line x1="585.7" y1="407.4" x2="603" y2="407.4" stroke="#444" stroke-width="0.6"/>
<text x="594.35" y="405.3" font-size="7.2" text-anchor="middle" fill="#222">*</text>
<text x="601.5" y="458.8" font-size="7.0" text-anchor="end" fill="#222" transform="rotate(-45 601.5 458.8)">Zeb2</text>
<line x1="392.9" y1="355.7" x2="392.9" y2="452.6" stroke="#555" stroke-width="0.8"/>
<line x1="392.9" y1="452.3" x2="616.2" y2="452.3" stroke="#555" stroke-width="0.8"/>
<text x="392.3" y="453.5" font-size="6.6" text-anchor="end" fill="#333">0</text>
<text x="392.3" y="429.7" font-size="6.6" text-anchor="end" fill="#333">1</text>
<text x="392.3" y="405.9" font-size="6.6" text-anchor="end" fill="#333">2</text>
<text x="392.3" y="382.1" font-size="6.6" text-anchor="end" fill="#333">3</text>
<text x="392.3" y="358.3" font-size="6.6" text-anchor="end" fill="#333">4</text>
<text x="640.9" y="403.9" font-size="6.7" text-anchor="start" fill="#222">Group</text>
<rect x="640.9" y="406.4" width="8.8" height="8.8" fill="#f0c9c9"/>
<rect x="640.9" y="415.2" width="8.8" height="8.8" fill="#9ac4e4"/>
<circle cx="645.3" cy="410.8" r="1.15" fill="none" stroke="#c48e8e" stroke-width="0.5"/>
<circle cx="645.3" cy="419.6" r="1.15" fill="none" stroke="#5b84b1" stroke-width="0.55"/>
<text x="651.4" y="412" font-size="6.7" text-anchor="start" fill="#222">Female</text>
<text x="651.4" y="420.7" font-size="6.7" text-anchor="start" fill="#222">Male</text>
</svg></body></html>
